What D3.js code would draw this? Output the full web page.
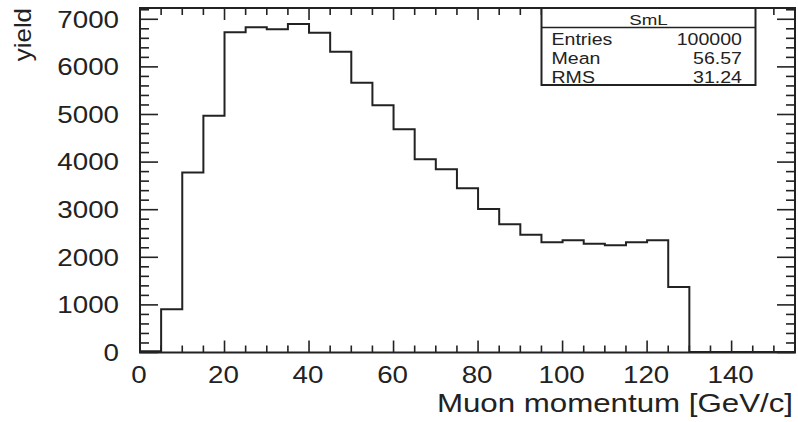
<!DOCTYPE html>
<html>
<head>
<meta charset="utf-8">
<script src="https://cdn.jsdelivr.net/npm/d3@7"></script>
<style>
  html, body { margin: 0; padding: 0; background: #fff; }
  svg { display: block; }
  text { font-family: "Liberation Sans", Arial, sans-serif; fill: #222; }
</style>
</head>
<body>
<svg id="chart" width="798" height="422"></svg>
<script>
// ---- data ----
const binEdges = [0,5,10,15,20,25,30,35,40,45,50,55,60,65,70,75,80,85,90,95,100,105,110,115,120,125,130,135,140,145,150,155];
const binCounts = [25, 910, 3780, 4975, 6727, 6832, 6790, 6900, 6718, 6319, 5668, 5193, 4689, 4059, 3849, 3450,
                   3015, 2693, 2475, 2315, 2357, 2286, 2252, 2315, 2357, 1376, 8, 8, 8, 8, 8];
const xTickValues = [0, 20, 40, 60, 80, 100, 120, 140];
const xTickLabels = ["0", "20", "40", "60", "80", "100", "120", "140"];
const yTickValues = [0, 1000, 2000, 3000, 4000, 5000, 6000, 7000];
const yTickLabels = ["0", "1000", "2000", "3000", "4000", "5000", "6000", "7000"];
const xMinorStep = 5;
const yMinorStep = 200;
const xDomain = [0, 155];
const yDomain = [0, 7237];
const xTitle = "Muon momentum [GeV/c]";
const yTitle = "yield";
const statsTitle = "SmL";
const statsNames = ["Entries", "Mean", "RMS"];
const statsValues = ["100000", "56.57", "31.24"];

// ---- layout ----
const L = 140, R = 795, T = 8, B = 352.5;
const ink = "#222";
const svg = d3.select("#chart");
const x = d3.scaleLinear().domain(xDomain).range([L, R]);
const y = d3.scaleLinear().domain(yDomain).range([B, T]);
const sx = 1.18; // horizontal text stretch of the reference

// histogram step line
const pts = [];
binCounts.forEach((v, i) => { pts.push([binEdges[i], v]); pts.push([binEdges[i + 1], v]); });
const line = d3.line().x(d => x(d[0])).y(d => y(d[1]));
svg.append("path").attr("d", line(pts))
  .attr("fill", "none").attr("stroke", ink).attr("stroke-width", 2);

// ticks
const ticks = svg.append("g").attr("stroke", ink).attr("stroke-width", 1.6);
d3.range(xDomain[0], xDomain[1] + 0.001, xMinorStep).forEach(v => {
  const len = (v % 20 === 0) ? 12 : 7;
  ticks.append("line").attr("x1", x(v)).attr("x2", x(v)).attr("y1", B).attr("y2", B - len);
  ticks.append("line").attr("x1", x(v)).attr("x2", x(v)).attr("y1", T).attr("y2", T + len);
});
d3.range(0, yDomain[1], yMinorStep).forEach(v => {
  const len = (v % 1000 === 0) ? 18 : 9;
  ticks.append("line").attr("x1", L).attr("x2", L + len).attr("y1", y(v)).attr("y2", y(v));
  ticks.append("line").attr("x1", R).attr("x2", R - len).attr("y1", y(v)).attr("y2", y(v));
});

// frame
svg.append("rect").attr("x", L).attr("y", T).attr("width", R - L).attr("height", B - T)
  .attr("fill", "none").attr("stroke", ink).attr("stroke-width", 2);

// tick labels
xTickValues.forEach((v, i) => {
  svg.append("g").attr("transform", `translate(${x(v) - 1},383)`)
    .append("text").attr("transform", `scale(${sx},1)`)
    .attr("text-anchor", "middle").attr("font-size", 23.5).text(xTickLabels[i]);
});
yTickValues.forEach((v, i) => {
  svg.append("g").attr("transform", `translate(119,${y(v) + 8.3})`)
    .append("text").attr("transform", `scale(${sx},1)`)
    .attr("text-anchor", "end").attr("font-size", 23.5).text(yTickLabels[i]);
});

// axis titles
svg.append("g").attr("transform", "translate(793,412)")
  .append("text").attr("transform", `scale(${sx},1)`)
  .attr("text-anchor", "end").attr("font-size", 26.5).text(xTitle);
svg.append("g").attr("transform", "translate(31,8) rotate(-90)")
  .append("text").attr("transform", "scale(1.1,1)")
  .attr("text-anchor", "end").attr("font-size", 23.5).text(yTitle);

// stats box
const bx0 = 541.5, bx1 = 755.5, by0 = 8, by1 = 85, sep = 27.5;
svg.append("rect").attr("x", bx0).attr("y", by0).attr("width", bx1 - bx0).attr("height", by1 - by0)
  .attr("fill", "#fff").attr("stroke", ink).attr("stroke-width", 2);
svg.append("line").attr("x1", bx0).attr("x2", bx1).attr("y1", sep).attr("y2", sep)
  .attr("stroke", ink).attr("stroke-width", 1.6);
svg.append("g").attr("transform", `translate(${(bx0 + bx1) / 2},25)`)
  .append("text").attr("transform", `scale(1.25,1)`)
  .attr("text-anchor", "middle").attr("font-size", 15).text(statsTitle);
const rowBase = [45, 64, 82.5];
statsNames.forEach((n, i) => {
  svg.append("g").attr("transform", `translate(551.5,${rowBase[i]})`)
    .append("text").attr("transform", "scale(1.2,1)")
    .attr("font-size", 16.3).text(n);
  svg.append("g").attr("transform", `translate(742,${rowBase[i]})`)
    .append("text").attr("transform", "scale(1.2,1)")
    .attr("text-anchor", "end").attr("font-size", 16.3).text(statsValues[i]);
});
</script>
</body>
</html>
